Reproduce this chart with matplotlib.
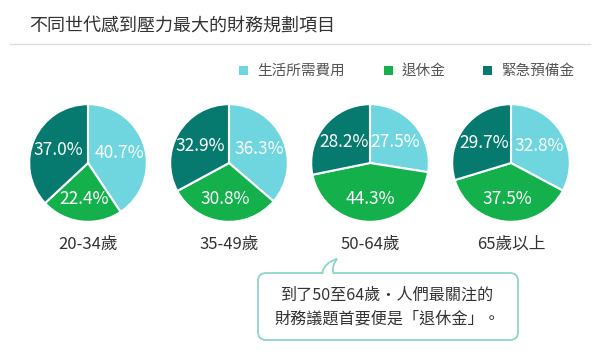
import matplotlib.pyplot as plt
from matplotlib.patches import FancyBboxPatch, Rectangle, PathPatch
from matplotlib.path import Path

plt.rcParams['font.family'] = ['Noto Sans CJK TC', 'DejaVu Sans']

# 資料
title = "不同世代感到壓力最大的財務規劃項目"
categories = ["生活所需費用", "退休金", "緊急預備金"]
colors = ["#6fd6e0", "#13b04b", "#077a6f"]
age_groups = ["20-34歲", "35-49歲", "50-64歲", "65歲以上"]
living = [40.7, 36.3, 27.5, 32.8]
retire = [22.4, 30.8, 44.3, 37.5]
emergency = [37.0, 32.9, 28.2, 29.7]
note = "到了50至64歲・人們最關注的\n財務議題首要便是「退休金」。"

W, H = 600, 360
fig = plt.figure(figsize=(W / 100, H / 100), dpi=100)

# 背景座標 (像素)
bg = fig.add_axes([0, 0, 1, 1])
bg.set_xlim(0, W)
bg.set_ylim(H, 0)
bg.axis('off')

bg.text(29, 26, title, fontsize=13, color="#333333", va='center', ha='left')
bg.plot([10, 590], [44, 44], color="#dddddd", lw=1)

# 圖例
leg_x = [243, 388, 487]
for x, lab, c in zip(leg_x, categories, colors):
    bg.add_patch(Rectangle((x - 4.5, 66), 9, 9, color=c, lw=0))
    bg.text(x + 14, 70.5, lab, fontsize=10.5, color="#555555", va='center', ha='left')

# 圓餅圖
cx_list = [88, 229, 370, 511]
cy, r = 163, 60
for i, cx in enumerate(cx_list):
    ax = fig.add_axes([(cx - r) / W, (H - cy - r) / H, 2 * r / W, 2 * r / H])
    vals = [living[i], retire[i], emergency[i]]
    wedges, texts, autotexts = ax.pie(
        vals, colors=colors, startangle=90, counterclock=False,
        autopct='%.1f%%', pctdistance=0.56,
        wedgeprops=dict(edgecolor='white', linewidth=1.5),
        textprops=dict(color='white', fontsize=12.5))
    # 退休金的標籤放低一點
    x, y = autotexts[1].get_position()
    autotexts[1].set_position((x * 1.1, y * 1.1))
    ax.set_xlim(-1.02, 1.02)
    ax.set_ylim(-1.02, 1.02)
    ax.set_aspect('equal')
    bg.text(cx, 244, age_groups[i], fontsize=12, color="#333333",
            ha='center', va='center')

# 說明框
edge = "#8fd4c8"
box = FancyBboxPatch((258, 273), 260, 67, boxstyle="round,pad=0,rounding_size=8",
                     facecolor='white', edgecolor=edge, lw=1.3)
bg.add_patch(box)
bg.plot([323, 332], [273, 273], color='white', lw=2, solid_capstyle='butt')
tail = Path([(322, 273), (325, 262), (337, 259), (332, 265), (333, 273)],
            [Path.MOVETO, Path.CURVE3, Path.CURVE3, Path.CURVE3, Path.CURVE3])
bg.add_patch(PathPatch(tail, facecolor='none', edgecolor=edge, lw=1.3))
bg.text(387, 307, note, fontsize=11.6, color="#333333", ha='center', va='center',
        linespacing=1.5)

fig.savefig("out.png", dpi=100)
